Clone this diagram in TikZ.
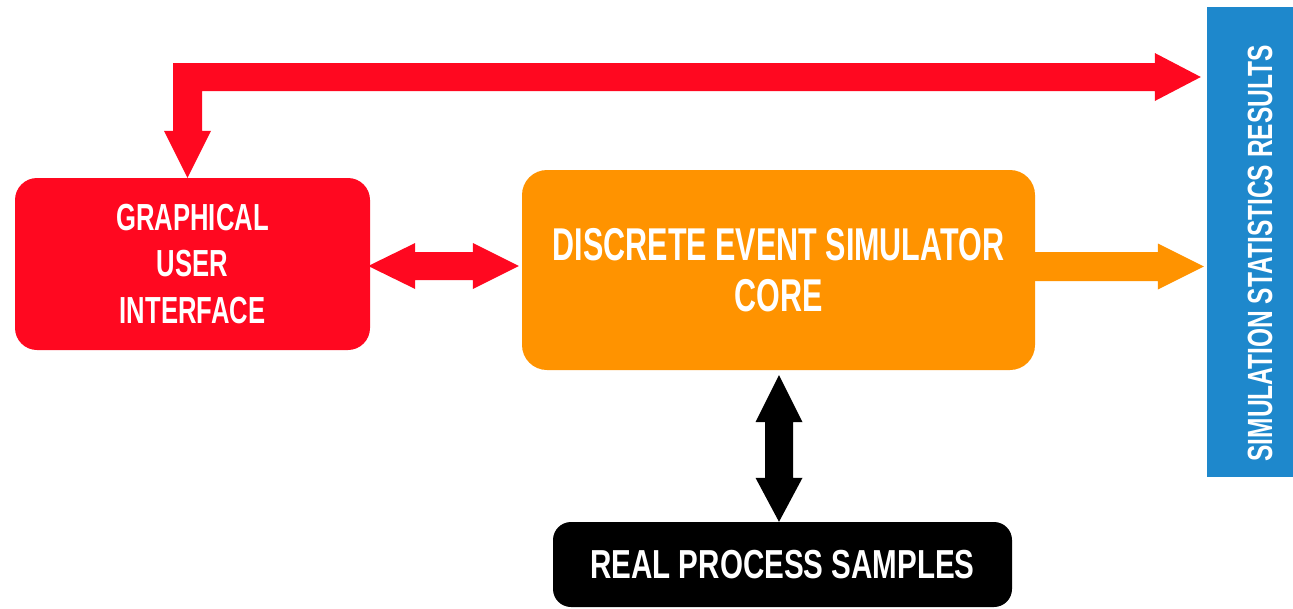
\documentclass[tikz,border=0pt]{standalone}
\usepackage{fontspec}
\usetikzlibrary{calc}
\newfontfamily\condCore[FakeStretch=0.663]{Liberation Sans}
\newfontfamily\condGui[FakeStretch=0.68]{Liberation Sans}
\newfontfamily\condSamp[FakeStretch=0.73]{Liberation Sans}
\newfontfamily\condRes[FakeStretch=0.70]{Liberation Sans}
\definecolor{gred}{RGB}{255,8,32}
\definecolor{gorange}{RGB}{255,147,0}
\definecolor{gblue}{RGB}{30,136,204}
\tikzset{
  box/.style={inner sep=0pt, text=white, align=center},
  guibox/.style={box, fill=gred, rounded corners=22pt, minimum width=355pt, minimum height=172pt,
    font={\condGui\bfseries\fontsize{37.7}{46.5}\selectfont}},
  corebox/.style={box, fill=gorange, rounded corners=25pt, minimum width=513pt, minimum height=200pt,
    font={\condCore\bfseries\fontsize{46}{51}\selectfont}},
  sampbox/.style={box, fill=black, rounded corners=18pt, minimum width=459pt, minimum height=85pt,
    font={\condSamp\bfseries\fontsize{40.5}{46}\selectfont}},
  resbox/.style={box, fill=gblue, minimum width=86pt, minimum height=470pt},
  restext/.style={text=white, inner sep=0pt, rotate=90, font={\condRes\bfseries\fontsize{35}{40}\selectfont}},
}
\begin{document}
\begin{tikzpicture}[x=1pt,y=-1pt]
\useasboundingbox (0,0) rectangle (1293,608);
% nodes
\node[guibox] (gui) at (192.5,264) {GRAPHICAL\\USER\\INTERFACE};
\node[corebox] (core) at (778.5,270) {DISCRETE EVENT SIMULATOR\\CORE};
\node[sampbox] (samp) at (782.5,564.5) {REAL PROCESS SAMPLES};
\node[resbox] (res) at (1250,242) {};
\node[restext] (rest) at (1260,253.5) {SIMULATION STATISTICS RESULTS};
% red elbow arrow GUI <-> results
\coordinate (etip) at ($(gui.north)+(-5,0)$);
\coordinate (rtip) at ($(res.west |- 0,77)+(-6,0)$);
\coordinate (corner) at (etip |- rtip);
\fill[gred] ($(corner)+(-14.5,-14)$) -- ($(rtip)+(-46,-14)$) -- ($(rtip)+(-46,-24)$) -- (rtip)
  -- ($(rtip)+(-46,24)$) -- ($(rtip)+(-46,14)$) -- ($(corner)+(14.5,14)$)
  -- ($(etip)+(14.5,-47)$) -- ($(etip)+(23.5,-47)$) -- (etip) -- ($(etip)+(-23.5,-47)$)
  -- ($(etip)+(-14.5,-47)$) -- cycle;
% red double arrow GUI <-> core
\coordinate (lt) at ($(gui.east)+(-2,2)$);
\coordinate (rt) at ($(core.west |- lt)+(-3,0)$);
\fill[gred] (lt) -- ($(lt)+(47,-23)$) -- ($(lt)+(47,-14)$) -- ($(rt)+(-46,-14)$) -- ($(rt)+(-46,-23)$)
  -- (rt) -- ($(rt)+(-46,23)$) -- ($(rt)+(-46,14)$) -- ($(lt)+(47,14)$) -- ($(lt)+(47,23)$) -- cycle;
% orange arrow core -> results
\coordinate (os) at ($(core.east |- lt)+(-3,0.5)$);
\coordinate (ot) at ($(res.west |- os)+(-3,0)$);
\fill[gorange] ($(os)+(0,-14.5)$) -- ($(ot)+(-46,-14.5)$) -- ($(ot)+(-46,-23)$) -- (ot)
  -- ($(ot)+(-46,23)$) -- ($(ot)+(-46,14.5)$) -- ($(os)+(0,14.5)$) -- cycle;
% black double arrow core <-> samples
\coordinate (bt) at ($(core.south)+(0.5,5)$);
\coordinate (bb) at (bt |- samp.north);
\fill[black] (bt) -- ($(bt)+(23.5,47)$) -- ($(bt)+(14,47)$) -- ($(bb)+(14,-44)$) -- ($(bb)+(23.5,-44)$)
  -- (bb) -- ($(bb)+(-23.5,-44)$) -- ($(bb)+(-14,-44)$) -- ($(bt)+(-14,47)$) -- ($(bt)+(-23.5,47)$) -- cycle;
\end{tikzpicture}
\end{document}
